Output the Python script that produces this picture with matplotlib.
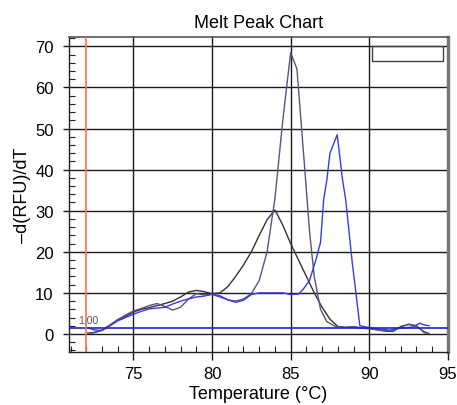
import matplotlib
matplotlib.use("Agg")
import matplotlib.pyplot as plt
from matplotlib.ticker import MultipleLocator
from matplotlib.patches import Rectangle

# --- data ---
temp_a = [72.1, 72.5, 73.0, 73.5, 74.0, 74.5, 75.0, 75.5, 76.0, 76.5, 77.0, 77.5, 78.0, 78.5,
          79.0, 79.5, 80.0, 80.5, 81.0, 81.5, 82.0, 82.5, 83.0, 83.5, 84.0, 84.5, 85.0, 85.5,
          86.0, 86.5, 87.0, 87.5, 88.0, 88.5, 89.0, 89.5, 90.0, 90.5, 91.0, 91.5, 92.0, 92.5,
          93.0, 93.5, 93.8]
val_a = [0.2, 0.3, 0.9, 2.0, 3.3, 4.3, 5.3, 6.0, 6.4, 6.9, 7.4, 8.0, 9.0, 10.2,
         10.6, 10.3, 9.8, 10.0, 11.5, 14.0, 16.8, 20.0, 24.0, 27.8, 30.2, 26.5, 22.0, 18.0,
         14.0, 10.0, 6.5, 3.6, 1.8, 1.6, 1.7, 1.4, 1.3, 1.0, 0.7, 0.6, 1.8, 2.3,
         1.9, 0.5, 0.1]

temp_b = [72.1, 72.5, 73.0, 73.5, 74.0, 74.5, 75.0, 75.5, 76.0, 76.5, 77.0, 77.5, 78.0, 78.5,
          79.0, 79.5, 80.0, 80.5, 81.0, 81.5, 82.0, 82.5, 83.0, 83.5, 84.0, 84.5, 85.0, 85.4,
          85.9, 86.2, 86.5, 86.9, 87.3, 87.8, 88.5, 89.0, 89.5, 90.0, 90.5, 91.0, 91.5, 92.0,
          92.5, 93.0, 93.5, 93.8]
val_b = [0.1, 0.4, 1.0, 2.2, 3.5, 4.6, 5.6, 6.2, 6.9, 7.4, 6.7, 5.8, 6.5, 8.5,
         9.8, 9.5, 9.6, 9.0, 8.3, 8.0, 8.5, 9.8, 13.0, 20.0, 33.0, 52.0, 68.5, 64.5,
         40.0, 25.0, 14.0, 6.0, 3.0, 1.9, 1.6, 1.8, 1.5, 1.3, 1.0, 0.8, 0.7, 1.6,
         2.4, 2.0, 0.3, 0.1]

temp_c = [72.1, 72.5, 73.0, 73.5, 74.0, 74.5, 75.0, 75.5, 76.0, 76.5, 77.0, 77.5, 78.0, 78.5,
          79.0, 79.5, 80.0, 80.5, 81.0, 81.5, 82.0, 82.5, 83.0, 83.5, 84.0, 84.5, 85.0, 85.5,
          85.8, 86.2, 86.6, 86.9, 87.1, 87.3, 87.5, 87.96, 88.3, 88.5, 88.9, 89.4, 89.8, 90.3,
          90.8, 91.3, 91.8, 92.3, 92.8, 93.2, 93.5, 93.8]
val_c = [1.5, 1.0, 0.8, 2.0, 3.2, 4.0, 4.8, 5.5, 6.1, 6.3, 6.5, 7.3, 8.0, 8.5,
         9.0, 9.2, 9.7, 9.3, 8.3, 7.7, 8.2, 9.6, 10.0, 10.0, 10.0, 10.0, 9.6, 9.7,
         10.9, 13.0, 18.0, 22.3, 32.7, 37.5, 44.0, 48.5, 37.5, 32.7, 18.0, 2.0, 1.7, 1.4,
         1.2, 0.9, 1.4, 1.5, 1.7, 2.6, 2.2, 2.0]

threshold = 1.4
threshold_label = "1.00"
begin_temp = 72.0
x_ticks = [75, 80, 85, 90, 95]
y_ticks = [0, 10, 20, 30, 40, 50, 60, 70]

plt.rcParams['font.family'] = ['Liberation Sans', 'DejaVu Sans']

fig = plt.figure(figsize=(4.57, 4.06), dpi=100)
ax = fig.add_axes([0.151, 0.1305, 0.829, 0.776])

ax.set_xlim(70.9, 95.0)
ax.set_ylim(-4.4, 72.3)

ax.grid(True, which='major', color='#1a1a1a', linewidth=1.0)
ax.set_axisbelow(True)

ax.plot(temp_a, val_a, color='#333333', linewidth=1.0, zorder=3)
ax.plot(temp_b, val_b, color='#55557a', linewidth=1.0, zorder=3)
ax.plot(temp_c, val_c, color='#3a3ae8', linewidth=1.0, zorder=4)

ax.axhline(threshold, color='#2222cc', linewidth=1.2, zorder=5)
ax.axvline(begin_temp, color='#ff6a5a', linewidth=1.2, zorder=5)
ax.text(72.1, threshold + 0.7, threshold_label, fontsize=7.5, color='#555555',
        ha='center', va='bottom', zorder=6)

# empty legend box
ax.add_patch(Rectangle((90.2, 66.5), 4.5, 3.5, fill=False, edgecolor='#444444',
                       linewidth=1.0, zorder=6))

ax.set_xticks(x_ticks)
ax.set_yticks(y_ticks)
ax.xaxis.set_minor_locator(MultipleLocator(1))
ax.yaxis.set_minor_locator(MultipleLocator(2))
ax.tick_params(which='major', direction='out', width=1, labelsize=12, color='#1a1a1a')
ax.tick_params(axis='x', which='major', length=6, pad=4)
ax.tick_params(axis='y', which='major', length=4, pad=7)
ax.tick_params(which='minor', direction='in', length=4, width=0.8, color='#222222')

for side in ['left', 'bottom']:
    ax.spines[side].set_color('#222222')
    ax.spines[side].set_linewidth(1.0)
ax.spines['top'].set_color('#555555')
ax.spines['top'].set_linewidth(1.2)
ax.spines['right'].set_color('#777777')
ax.spines['right'].set_linewidth(2.5)

ax.set_title('Melt Peak Chart', fontsize=13, pad=7)
ax.set_xlabel('Temperature (°C)', fontsize=13, labelpad=3)
ax.set_ylabel('\u2013d(RFU)/dT', fontsize=13, labelpad=3)

fig.savefig('out.png', dpi=100)
